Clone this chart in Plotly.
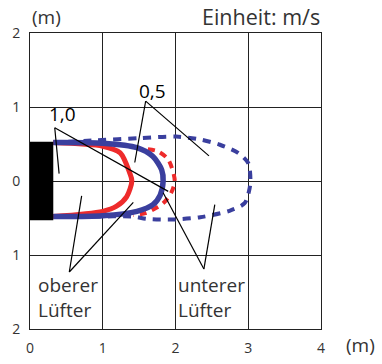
import plotly.graph_objects as go

# --- data (metres) ---
red_solid_x = [0.32, 1.00, 1.24, 1.37, 1.40, 1.33, 1.19, 1.00, 0.32]
red_solid_y = [0.52, 0.47, 0.38, 0.11, 0.00, -0.21, -0.34, -0.41, -0.48]

blue_solid_x = [0.32, 1.00, 1.47, 1.69, 1.81, 1.83, 1.79, 1.69, 1.47, 1.00, 0.32]
blue_solid_y = [0.52, 0.51, 0.45, 0.33, 0.15, 0.00, -0.19, -0.32, -0.41, -0.47, -0.48]

red_dash_x = [1.62, 1.76, 1.90, 1.99, 1.94, 1.83, 1.60, 1.42]
red_dash_y = [0.43, 0.40, 0.29, 0.00, -0.16, -0.30, -0.43, -0.46]

blue_dash_x = [0.32, 0.92, 1.51, 2.01, 2.34, 2.61, 2.86, 3.00, 3.03, 3.01, 2.95, 2.75, 2.34, 1.97, 1.60, 1.42, 0.92, 0.32]
blue_dash_y = [0.52, 0.55, 0.58, 0.60, 0.56, 0.49, 0.38, 0.24, 0.00, -0.14, -0.30, -0.40, -0.49, -0.52, -0.51, -0.48, -0.48, -0.48]

unit_x = [0.0, 0.32, 0.32, 0.0, 0.0]
unit_y = [-0.53, -0.53, 0.53, 0.53, -0.53]

tick_vals = [-2, -1, 0, 1, 2]
y_tick_text = ["2", "1", "0", "1", "2"]
x_tick_vals = [0, 1, 2, 3, 4]

# labels: (text, x, y) and leader lines: origin -> targets
label_10 = ("1,0", 0.44, 0.91)
label_10_origin = (0.34, 0.72)
label_10_targets = [(0.40, 0.10), (1.90, -0.14)]

label_05 = ("0,5", 1.68, 1.21)
label_05_origin = (1.59, 1.08)
label_05_targets = [(1.44, 0.25), (2.46, 0.34)]

label_ob = ("oberer<br>Lüfter", 0.52, -1.57)
label_ob_origin = (0.54, -1.23)
label_ob_targets = [(0.71, -0.20), (1.42, -0.29)]

label_un = ("unterer<br>Lüfter", 2.50, -1.57)
label_un_origin = (2.39, -1.19)
label_un_targets = [(1.83, -0.16), (2.54, -0.32)]

RED = "#EE2B2B"
BLUE = "#3A3F9E"
TXT = "#333333"
FONT = "Open Sans"

fig = go.Figure()

fig.add_trace(go.Scatter(x=blue_dash_x, y=blue_dash_y, mode="lines",
                         line=dict(color=BLUE, width=4, dash="8px,7px", shape="spline", smoothing=0.8),
                         hoverinfo="skip"))
fig.add_trace(go.Scatter(x=red_dash_x, y=red_dash_y, mode="lines",
                         line=dict(color=RED, width=4, dash="7px,6px", shape="spline", smoothing=0.8),
                         hoverinfo="skip"))
fig.add_trace(go.Scatter(x=red_solid_x, y=red_solid_y, mode="lines",
                         line=dict(color=RED, width=5, shape="spline", smoothing=0.8),
                         hoverinfo="skip"))
fig.add_trace(go.Scatter(x=blue_solid_x, y=blue_solid_y, mode="lines",
                         line=dict(color=BLUE, width=5.5, shape="spline", smoothing=0.8),
                         hoverinfo="skip"))
fig.add_trace(go.Scatter(x=unit_x, y=unit_y, mode="lines", fill="toself",
                         fillcolor="black", line=dict(color="black", width=0),
                         hoverinfo="skip"))

shapes = []
for origin, targets in [(label_10_origin, label_10_targets),
                        (label_05_origin, label_05_targets),
                        (label_ob_origin, label_ob_targets),
                        (label_un_origin, label_un_targets)]:
    for t in targets:
        shapes.append(dict(type="line", xref="x", yref="y",
                           x0=origin[0], y0=origin[1], x1=t[0], y1=t[1],
                           line=dict(color="black", width=1.2), layer="above"))

annotations = []
for text, x, y in [label_10, label_05]:
    annotations.append(dict(text=text, x=x, y=y, xref="x", yref="y", showarrow=False,
                            xanchor="center", yanchor="middle",
                            font=dict(family=FONT, size=19, color="black")))
for text, x, y in [label_ob, label_un]:
    annotations.append(dict(text=text, x=x, y=y, xref="x", yref="y", showarrow=False,
                            xanchor="center", yanchor="middle",
                            align="left", font=dict(family=FONT, size=19, color=TXT)))

annotations += [
    dict(text="(m)", x=0.058, y=1.055, xref="paper", yref="paper", showarrow=False,
         xanchor="center", yanchor="middle", font=dict(family=FONT, size=19, color=TXT)),
    dict(text="Einheit: m/s", x=1.003, y=1.055, xref="paper", yref="paper", showarrow=False,
         xanchor="right", yanchor="middle", font=dict(family=FONT, size=21.5, color=TXT)),
    dict(text="(m)", x=1.137, y=-0.054, xref="paper", yref="paper", showarrow=False,
         xanchor="center", yanchor="middle", font=dict(family=FONT, size=19, color=TXT)),
]

fig.update_layout(
    width=382, height=364,
    margin=dict(l=30, r=61, t=33, b=35, autoexpand=False),
    paper_bgcolor="white", plot_bgcolor="white",
    showlegend=False,
    shapes=shapes,
    annotations=annotations,
    xaxis=dict(range=[0, 4], tickvals=x_tick_vals, showgrid=True, gridcolor="#222222", gridwidth=1,
               zeroline=False, showline=True, linecolor="#222222", linewidth=1, mirror=True,
               ticks="", ticklabelstandoff=6, fixedrange=True, automargin=False,
               tickfont=dict(family=FONT, size=14, color=TXT)),
    yaxis=dict(range=[-2, 2], tickvals=tick_vals, ticktext=y_tick_text, showgrid=True,
               gridcolor="#222222", gridwidth=1, zeroline=False, showline=True,
               linecolor="#222222", linewidth=1, mirror=True, ticks="", ticklabelstandoff=6,
               fixedrange=True, automargin=False, tickfont=dict(family=FONT, size=14, color=TXT)),
)

fig.write_html("out.html", config={"displayModeBar": False},
               post_script="document.body.style.margin='0';document.body.style.overflow='hidden';")
